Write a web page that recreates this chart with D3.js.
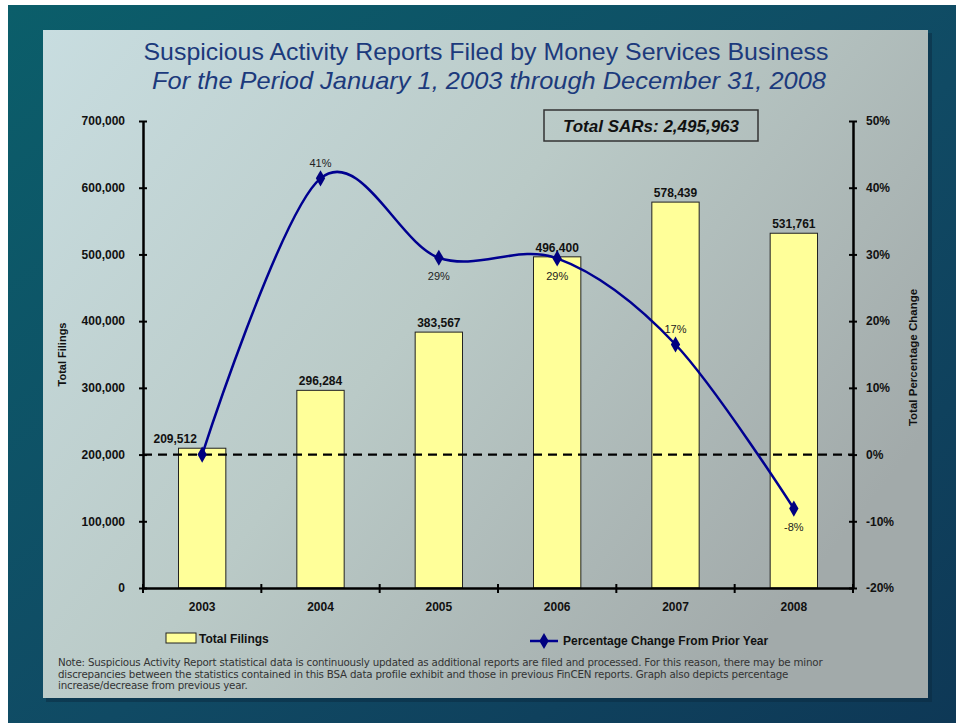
<!DOCTYPE html>
<html>
<head>
<meta charset="utf-8">
<script src="https://cdn.jsdelivr.net/npm/d3@7/dist/d3.min.js"></script>
<style>
  body { margin: 0; background: #fff; }
  text { font-family: "Liberation Sans", Arial, sans-serif; }
</style>
</head>
<body>
<div id="chart"></div>
<script>
// chart data
var years = ["2003", "2004", "2005", "2006", "2007", "2008"];
var filings = [209512, 296284, 383567, 496400, 578439, 531761];
var pctChange = [0, 41.4, 29.5, 29.4, 16.5, -8.1];
var pctLabels = ["", "41%", "29%", "29%", "17%", "-8%"];
var pctLabelPos = ["", "above", "below", "below", "above", "below"];
var leftTicks = [0, 100000, 200000, 300000, 400000, 500000, 600000, 700000];
var rightTicks = [-20, -10, 0, 10, 20, 30, 40, 50];
var noteLines = [
    "Note:  Suspicious Activity Report statistical data is continuously updated as additional reports are filed and processed.  For this reason, there may be minor",
    "discrepancies between the statistics contained in this BSA data profile exhibit and those in previous FinCEN reports. Graph also depicts percentage",
    "increase/decrease from previous year."
];

var w = 956, h = 723;

var svg = d3.select("#chart")
    .append("svg")
    .attr("width", w)
    .attr("height", h);

var defs = svg.append("defs");

var outerGrad = defs.append("linearGradient")
    .attr("id", "outerGrad")
    .attr("x1", "0").attr("y1", "0").attr("x2", "1").attr("y2", "1");
outerGrad.append("stop").attr("offset", "0%").attr("stop-color", "#0b5e6a");
outerGrad.append("stop").attr("offset", "55%").attr("stop-color", "#104a64");
outerGrad.append("stop").attr("offset", "100%").attr("stop-color", "#0e3856");

var panelGrad = defs.append("linearGradient")
    .attr("id", "panelGrad")
    .attr("x1", "0").attr("y1", "0").attr("x2", "1").attr("y2", "0.6");
panelGrad.append("stop").attr("offset", "0%").attr("stop-color", "#c8dde0");
panelGrad.append("stop").attr("offset", "50%").attr("stop-color", "#bacac7");
panelGrad.append("stop").attr("offset", "100%").attr("stop-color", "#a2aaaa");

// outer background (white strip on the left/top edge as in the source image)
svg.append("rect")
    .attr("x", 8).attr("y", 5)
    .attr("width", w - 8).attr("height", h - 5)
    .attr("fill", "url(#outerGrad)");

// panel shadow + panel
svg.append("rect")
    .attr("x", 46).attr("y", 33)
    .attr("width", 886).attr("height", 669)
    .attr("fill", "#0a2a40").attr("opacity", 0.5);
svg.append("rect")
    .attr("x", 43).attr("y", 30)
    .attr("width", 885).attr("height", 668)
    .attr("fill", "url(#panelGrad)");

// titles
svg.append("text")
    .attr("x", 486).attr("y", 60)
    .attr("text-anchor", "middle")
    .attr("fill", "#1c3a7c")
    .attr("textLength", 685)
    .attr("lengthAdjust", "spacingAndGlyphs")
    .style("font-size", "24px")
    .text("Suspicious Activity Reports Filed by Money Services Business");
svg.append("text")
    .attr("x", 489).attr("y", 89)
    .attr("text-anchor", "middle")
    .attr("fill", "#1c3a7c")
    .attr("textLength", 674)
    .attr("lengthAdjust", "spacingAndGlyphs")
    .style("font-size", "24px")
    .style("font-style", "italic")
    .text("For the Period January 1, 2003 through December 31, 2008");

// plot area
var plotLeft = 143, plotRight = 853, plotTop = 121, plotBottom = 588;

var x = d3.scaleBand()
    .domain(years)
    .range([plotLeft, plotRight])
    .paddingInner(0.6)
    .paddingOuter(0.3);

var yL = d3.scaleLinear().domain([0, 700000]).range([plotBottom, plotTop]);
var yR = d3.scaleLinear().domain([-20, 50]).range([plotBottom, plotTop]);

// bars
svg.selectAll(".bar")
    .data(filings)
    .enter()
    .append("rect")
    .attr("class", "bar")
    .attr("x", (d, i) => x(years[i]))
    .attr("y", (d) => yL(d))
    .attr("width", x.bandwidth())
    .attr("height", (d) => plotBottom - yL(d))
    .attr("fill", "#ffff99")
    .attr("stroke", "#222")
    .attr("stroke-width", 1);

// bar labels (first one sits left of the line, as in the original)
svg.selectAll(".barLabel")
    .data(filings)
    .enter()
    .append("text")
    .attr("x", (d, i) => x(years[i]) + x.bandwidth() / 2 - (i === 0 ? 27 : 0))
    .attr("y", (d) => yL(d) - 5)
    .attr("text-anchor", "middle")
    .attr("fill", "#111")
    .style("font-size", "12px")
    .style("font-weight", "bold")
    .text((d) => d3.format(",")(d));

// zero percent dashed line
svg.append("line")
    .attr("x1", plotLeft).attr("x2", plotRight)
    .attr("y1", yR(0)).attr("y2", yR(0))
    .attr("stroke", "#000")
    .attr("stroke-width", 2.2)
    .attr("stroke-dasharray", "9,6");

// axes
var leftAxis = d3.axisLeft(yL)
    .tickValues(leftTicks)
    .tickFormat(d3.format(","))
    .tickSize(0);
var gL = svg.append("g")
    .attr("transform", "translate(" + plotLeft + ",0)")
    .call(leftAxis);

var rightAxis = d3.axisRight(yR)
    .tickValues(rightTicks)
    .tickFormat((d) => d + "%")
    .tickSize(0);
var gR = svg.append("g")
    .attr("transform", "translate(" + plotRight + ",0)")
    .call(rightAxis);

[gL, gR].forEach(function (g) {
    g.select(".domain").attr("stroke", "#000").attr("stroke-width", 2.5);
    g.selectAll(".tick text")
        .attr("fill", "#111")
        .style("font-size", "12px")
        .style("font-weight", "bold")
        .style("font-family", "'Liberation Sans', Arial, sans-serif");
    g.selectAll(".tick line").remove();
    g.selectAll(".tick").append("line")
        .attr("x1", -4).attr("x2", 4)
        .attr("stroke", "#000").attr("stroke-width", 2);
});
gL.selectAll(".tick text").attr("x", -18);
gR.selectAll(".tick text").attr("x", 13);

// x axis
var xAxis = d3.axisBottom(x).tickSize(0);
var gX = svg.append("g")
    .attr("transform", "translate(0," + plotBottom + ")")
    .call(xAxis);
gX.select(".domain").attr("stroke", "#000").attr("stroke-width", 2.5);
gX.selectAll(".tick text")
    .attr("y", 14)
    .attr("fill", "#111")
    .style("font-size", "12px")
    .style("font-weight", "bold")
    .style("font-family", "'Liberation Sans', Arial, sans-serif");
gX.selectAll(".sep")
    .data(d3.range(0, years.length + 1))
    .enter()
    .append("line")
    .attr("x1", (i) => plotLeft + i * (plotRight - plotLeft) / years.length)
    .attr("x2", (i) => plotLeft + i * (plotRight - plotLeft) / years.length)
    .attr("y1", -4).attr("y2", 5)
    .attr("stroke", "#000").attr("stroke-width", 2);

// axis titles
svg.append("text")
    .attr("transform", "translate(66," + ((plotTop + plotBottom) / 2) + ") rotate(-90)")
    .attr("text-anchor", "middle")
    .attr("fill", "#111")
    .style("font-size", "11px")
    .style("font-weight", "bold")
    .text("Total Filings");
svg.append("text")
    .attr("transform", "translate(917," + ((plotTop + plotBottom) / 2 + 3) + ") rotate(-90)")
    .attr("text-anchor", "middle")
    .attr("fill", "#111")
    .style("font-size", "11.5px")
    .style("font-weight", "bold")
    .text("Total Percentage Change");

// percentage line
var cx = (i) => x(years[i]) + x.bandwidth() / 2;
var line = d3.line()
    .x((d, i) => cx(i))
    .y((d) => yR(d))
    .curve(d3.curveCatmullRom.alpha(0));

svg.append("path")
    .datum(pctChange)
    .attr("d", line)
    .attr("fill", "none")
    .attr("stroke", "#000090")
    .attr("stroke-width", 2.5);

var diamond = d3.symbol().type(d3.symbolDiamond).size(75);
svg.selectAll(".marker")
    .data(pctChange)
    .enter()
    .append("path")
    .attr("d", diamond)
    .attr("transform", (d, i) => "translate(" + cx(i) + "," + yR(d) + ")")
    .attr("fill", "#000080");

svg.selectAll(".pctLabel")
    .data(pctChange)
    .enter()
    .append("text")
    .attr("x", (d, i) => cx(i))
    .attr("y", (d, i) => pctLabelPos[i] === "above" ? yR(d) - 11 : yR(d) + 22)
    .attr("text-anchor", "middle")
    .attr("fill", "#222")
    .style("font-size", "11px")
    .text((d, i) => pctLabels[i]);

// total SARs box
svg.append("rect")
    .attr("x", 544).attr("y", 110)
    .attr("width", 214).attr("height", 31)
    .attr("fill", "none")
    .attr("stroke", "#333")
    .attr("stroke-width", 1.5);
svg.append("text")
    .attr("x", 651).attr("y", 132)
    .attr("text-anchor", "middle")
    .attr("fill", "#111")
    .style("font-size", "17px")
    .style("font-weight", "bold")
    .style("font-style", "italic")
    .text("Total SARs: 2,495,963");

// legend
svg.append("rect")
    .attr("x", 166).attr("y", 633)
    .attr("width", 30).attr("height", 10)
    .attr("fill", "#ffff99")
    .attr("stroke", "#222");
svg.append("text")
    .attr("x", 199).attr("y", 643)
    .attr("fill", "#111")
    .style("font-size", "12px")
    .style("font-weight", "bold")
    .text("Total Filings");

svg.append("line")
    .attr("x1", 530).attr("x2", 558)
    .attr("y1", 641).attr("y2", 641)
    .attr("stroke", "#000090")
    .attr("stroke-width", 2.5);
svg.append("path")
    .attr("d", diamond)
    .attr("transform", "translate(544,641)")
    .attr("fill", "#000080");
svg.append("text")
    .attr("x", 563).attr("y", 645)
    .attr("fill", "#111")
    .style("font-size", "12px")
    .style("font-weight", "bold")
    .text("Percentage Change From Prior Year");

// note text
svg.selectAll(".note")
    .data(noteLines)
    .enter()
    .append("text")
    .attr("x", 58)
    .attr("y", (d, i) => 666 + i * 11.5)
    .attr("fill", "#333")
    .style("font-size", "10.3px")
    .style("font-family", "'DejaVu Sans', sans-serif")
    .style("letter-spacing", "-0.2px")
    .text((d) => d);
</script>
</body>
</html>
